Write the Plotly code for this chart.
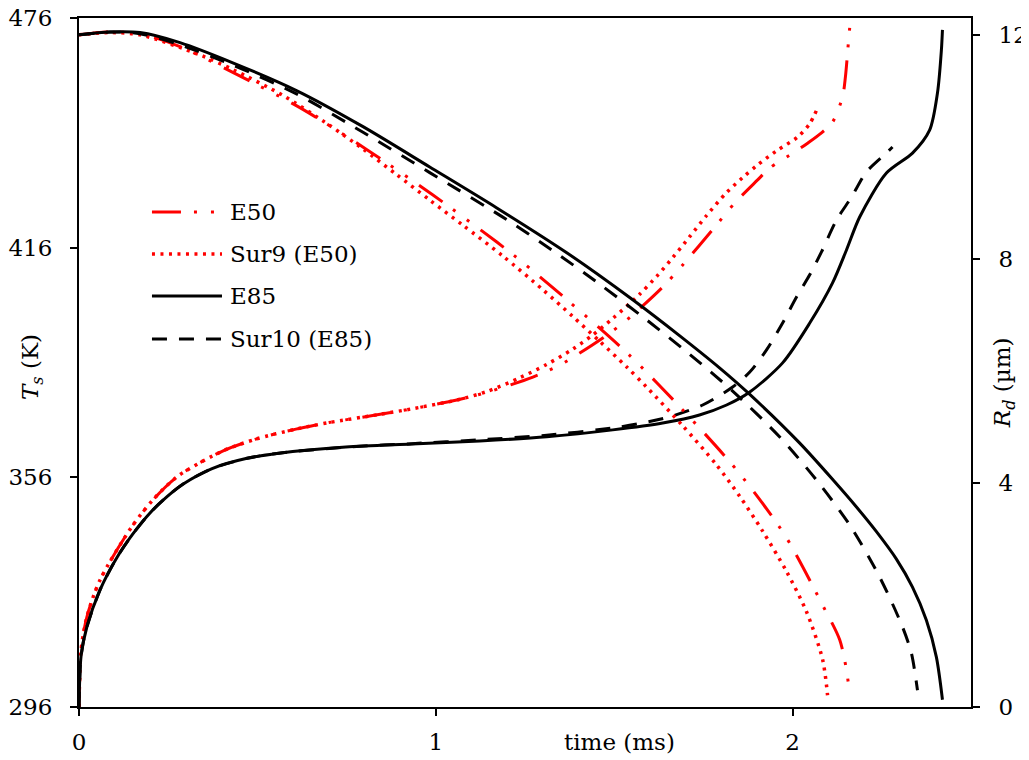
import plotly.graph_objects as go

# ---------------- data (time in ms) ----------------
# Surface temperature Ts (K), left axis
t_ts_e85 = [0, 0.006, 0.022, 0.059, 0.106, 0.151, 0.199, 0.246, 0.291, 0.373, 0.468, 0.560,
            0.748, 0.933, 1.123, 1.311, 1.496, 1.636, 1.739, 1.815, 1.880, 1.972, 2.048,
            2.112, 2.151, 2.188, 2.263, 2.336, 2.384, 2.406, 2.417, 2.420]
ts_e85 = [296, 309.5, 316.9, 326.6, 335.0, 341.2, 346.7, 350.9, 354.2, 358.3, 360.9, 362.3,
          363.9, 364.7, 365.5, 366.6, 368.4, 370.2, 372.3, 374.9, 378.3, 385.9, 396.3,
          406.8, 415.4, 424.0, 435.5, 440.7, 446.7, 456.4, 467.6, 472.9]

t_ts_sur10 = [0, 0.006, 0.022, 0.059, 0.106, 0.151, 0.199, 0.246, 0.291, 0.373, 0.468, 0.560,
              0.748, 0.933, 1.123, 1.311, 1.496, 1.580, 1.655, 1.748, 1.832, 1.880, 1.927,
              1.972, 2.011, 2.048, 2.081, 2.123, 2.165, 2.207, 2.266, 2.280]
ts_sur10 = [296, 309.5, 316.9, 326.6, 335.0, 341.2, 346.7, 350.9, 354.2, 358.3, 360.9, 362.3,
            363.9, 364.8, 365.8, 367.0, 368.9, 370.2, 371.8, 374.9, 379.6, 383.5, 389.3,
            396.3, 403.1, 408.9, 414.9, 423.2, 429.2, 435.8, 441.0, 442.3]

t_ts_e50 = [0, 0.006, 0.022, 0.059, 0.151, 0.216, 0.280, 0.401, 0.496, 0.608, 0.700, 0.840,
            0.933, 1.059, 1.143, 1.272, 1.347, 1.468, 1.535, 1.636, 1.692, 1.782, 1.838,
            1.902, 1.936, 2.006, 2.042, 2.081, 2.112, 2.140, 2.148, 2.157, 2.160]
ts_e50 = [296, 311.0, 319.5, 329.2, 343.5, 351.0, 356.5, 362.8, 366.0, 368.6, 370.3, 372.4,
          373.9, 376.2, 378.2, 382.2, 385.3, 392.4, 397.1, 405.7, 411.5, 421.4, 427.7,
          433.7, 436.8, 441.0, 443.3, 446.0, 448.8, 455.4, 460.6, 470.3, 473.4]

t_ts_sur9 = [0, 0.006, 0.022, 0.059, 0.151, 0.216, 0.280, 0.401, 0.496, 0.608, 0.700, 0.840,
             0.933, 1.059, 1.143, 1.235, 1.311, 1.384, 1.440, 1.496, 1.571, 1.619, 1.664,
             1.711, 1.759, 1.815, 1.860, 1.899, 1.955, 2.014, 2.048, 2.070]
ts_sur9 = [296, 311.0, 319.5, 329.2, 343.5, 351.0, 356.5, 362.8, 366.0, 368.6, 370.3, 372.4,
           373.9, 376.2, 378.4, 382.0, 385.5, 389.5, 393.2, 397.5, 403.8, 408.5, 413.4,
           418.8, 424.4, 430.4, 434.3, 437.4, 441.3, 444.9, 448.4, 452.5]

# Droplet radius Rd (um), right axis
t_rd_e85 = [0, 0.087, 0.171, 0.283, 0.431, 0.611, 0.796, 0.983, 1.171, 1.367, 1.552, 1.683,
            1.796, 1.880, 2.020, 2.118, 2.179, 2.235, 2.291, 2.336, 2.375, 2.403, 2.420]
rd_e85 = [12.0, 12.05, 12.04, 11.86, 11.50, 11.00, 10.36, 9.64, 8.91, 8.11, 7.27, 6.63,
          6.05, 5.58, 4.71, 4.02, 3.57, 3.13, 2.64, 2.14, 1.55, 0.89, 0.13]

t_rd_sur10 = [0, 0.087, 0.171, 0.283, 0.431, 0.611, 0.796, 0.983, 1.199, 1.325, 1.459, 1.591,
              1.711, 1.832, 1.964, 2.067, 2.160, 2.244, 2.308, 2.333, 2.350]
rd_sur10 = [12.0, 12.05, 12.02, 11.82, 11.46, 10.94, 10.26, 9.54, 8.70, 8.16, 7.55, 6.91,
            6.30, 5.64, 4.82, 4.05, 3.25, 2.32, 1.43, 0.96, 0.30]

t_rd_e50 = [0, 0.087, 0.171, 0.283, 0.431, 0.619, 0.807, 0.992, 1.171, 1.235, 1.375, 1.541,
            1.697, 1.846, 1.978, 2.084, 2.132, 2.151, 2.160]
rd_e50 = [12.0, 12.05, 12.02, 11.79, 11.33, 10.70, 9.95, 9.14, 8.30, 7.98, 7.23, 6.29,
          5.27, 4.21, 3.07, 1.82, 1.20, 0.66, 0.21]

t_rd_sur9 = [0, 0.087, 0.171, 0.339, 0.431, 0.571, 0.703, 0.796, 0.891, 0.983, 1.076, 1.188,
             1.300, 1.384, 1.459, 1.535, 1.591, 1.692, 1.787, 1.852, 1.916, 1.983, 2.039,
             2.084, 2.098]
rd_sur9 = [12.0, 12.04, 12.0, 11.64, 11.38, 10.92, 10.38, 9.96, 9.50, 9.05, 8.60, 8.05,
           7.45, 6.97, 6.53, 6.07, 5.71, 5.02, 4.32, 3.76, 3.14, 2.42, 1.70, 0.85, 0.21]

x_ticks = [0, 1, 2]
ts_ticks = [296, 356, 416, 476]
rd_ticks = [0, 4, 8, 12]

legend_names = ["E50", "Sur9 (E50)", "E85", "Sur10 (E85)"]

# ---------------- styles ----------------
RED = "#FF0000"
styles = {
    "E50": dict(color=RED, width=3, dash="29px,13px,3px,14px,3px,14px"),
    "Sur9 (E50)": dict(color=RED, width=3.5, dash="3px,5.5px"),
    "E85": dict(color="black", width=3, dash="solid"),
    "Sur10 (E85)": dict(color="black", width=3, dash="15px,12px"),
}
FONT = "DejaVu Serif"

fig = go.Figure()

series = [
    ("E50", t_ts_e50, ts_e50, t_rd_e50, rd_e50),
    ("Sur9 (E50)", t_ts_sur9, ts_sur9, t_rd_sur9, rd_sur9),
    ("Sur10 (E85)", t_ts_sur10, ts_sur10, t_rd_sur10, rd_sur10),
    ("E85", t_ts_e85, ts_e85, t_rd_e85, rd_e85),
]
for name, tt, ts, tr, rd in series:
    fig.add_trace(go.Scatter(x=tt, y=ts, mode="lines", name=name, showlegend=False,
                             line=dict(**styles[name], shape="spline", smoothing=0.8),
                             yaxis="y"))
    fig.add_trace(go.Scatter(x=tr, y=rd, mode="lines", name=name, showlegend=False,
                             line=dict(**styles[name], shape="spline", smoothing=0.8),
                             yaxis="y2"))

axis_common = dict(showgrid=False, zeroline=False, showline=True, linecolor="black",
                   linewidth=2, ticks="outside", ticklen=7, tickwidth=1.5,
                   tickcolor="black", automargin=False, ticklabeloverflow="allow",
                   tickfont=dict(family=FONT, size=23, color="black"))

# The page body has an 8px margin, so the figure is sized/offset to place the
# plot area where the original has it inside the 1029x760 window.
fig.update_layout(
    width=1021, height=752,
    margin=dict(l=71, r=58, t=10, b=53, autoexpand=False),
    paper_bgcolor="white", plot_bgcolor="white",
    showlegend=False,
    xaxis=dict(range=[0, 2.5], tickvals=x_ticks, mirror=True, ticklabelstandoff=6,
               **axis_common),
    yaxis=dict(range=[296, 476], tickvals=ts_ticks, ticklabelstandoff=13, **axis_common),
    yaxis2=dict(range=[0, 12.3], tickvals=rd_ticks, overlaying="y", side="right",
                ticklabelstandoff=14, **axis_common),
)

TXT = dict(family=FONT, size=23, color="black")
# axis titles as annotations (placed like the original)
fig.add_annotation(text="<i>T</i><sub><i>s</i></sub> (K)", xref="paper", yref="paper",
                   x=-0.0527, y=0.4935, textangle=-90, showarrow=False, font=TXT,
                   xanchor="center", yanchor="middle")
fig.add_annotation(text="<i>R</i><sub><i>d</i></sub> (µm)", xref="paper", yref="paper",
                   x=1.037, y=0.47, textangle=-90, showarrow=False, font=TXT,
                   xanchor="center", yanchor="middle")
fig.add_annotation(text="time (ms)", xref="paper", yref="paper",
                   x=0.6065, y=-0.0508, showarrow=False, font=TXT,
                   xanchor="center", yanchor="middle")

# custom legend (long line samples like the original)
leg_y = [0.7184, 0.6575, 0.5965, 0.5341]
for name, yy in zip(legend_names, leg_y):
    st = styles[name]
    fig.add_shape(type="line", xref="paper", yref="paper", x0=0.0818, x1=0.1603,
                  y0=yy, y1=yy, line=dict(color=st["color"], width=st["width"], dash=st["dash"]))
    fig.add_annotation(text=name, xref="paper", yref="paper", x=0.167, y=yy,
                       xanchor="left", yanchor="middle", showarrow=False, font=TXT)

fig.write_html("out.html")
